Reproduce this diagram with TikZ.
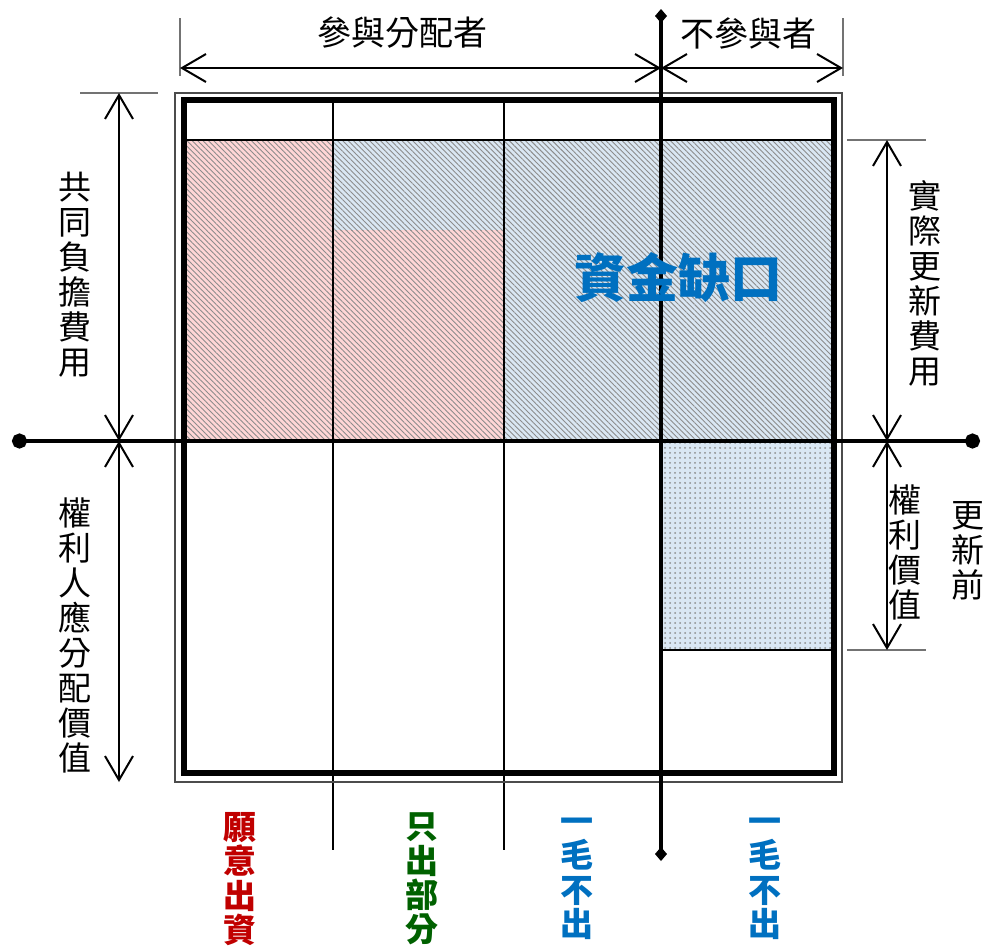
\documentclass[tikz,border=0pt]{standalone}
\usepackage{fontspec}
\usepackage{xcolor}
\usepackage{tikz}
\usetikzlibrary{positioning,calc,arrows.meta,patterns.meta}
\newfontfamily\cjk{Noto Sans CJK TC}
\definecolor{GapBlue}{RGB}{0,112,192}
\definecolor{PayRed}{RGB}{192,0,0}
\definecolor{PartGreen}{RGB}{0,97,0}
\definecolor{PinkFill}{RGB}{255,214,214}
\definecolor{SkyFill}{RGB}{218,231,243}
\tikzset{
    dimline/.style={line width=1pt, {Straight Barb[length=12pt,width=14pt]}-{Straight Barb[length=12pt,width=14pt]}},
    tickline/.style={line width=0.6pt, draw=black!55},
    vtext/.style={font=\cjk\fontsize{16.5}{17.5}\selectfont, align=center, inner sep=0pt},
    htext/.style={font=\cjk\fontsize{17}{20}\selectfont, inner sep=0pt}
}

\begin{document}
\begin{tikzpicture}[
        x=0.5pt, y=-0.5pt,
        % --- VÙNG TÔ ---
        hatch_red/.style={fill=PinkFill, postaction={pattern={Lines[angle=-45,distance=1.9pt,line width=0.45pt]}, pattern color=black!45}},
        hatch_blue/.style={fill=SkyFill, postaction={pattern={Lines[angle=-45,distance=1.9pt,line width=0.45pt]}, pattern color=black!45}},
        dots_blue/.style={fill=SkyFill, postaction={pattern={Dots[distance=2.5pt,radius=0.5pt]}, pattern color=black!45}},
        % --- ĐƯỜNG VÀ CHỮ ---
        axis/.style={line width=2.2pt},
        thin_line/.style={line width=0.6pt},
        btext/.style={font=\cjk\bfseries\fontsize{16.5}{17.2}\selectfont, align=center, inner sep=0pt},
        btext_red/.style={btext, text=PayRed},
        btext_green/.style={btext, text=PartGreen},
        btext_blue/.style={btext, text=GapBlue}
    ]
        \useasboundingbox (0,0) rectangle (986,948);

        % --- VÙNG TÔ ---
        \path[hatch_red] (184,140) rectangle (333,441);
        \path[hatch_red] (333,230) rectangle (504,441);
        \path[hatch_blue] (333,140) rectangle (504,230);
        \path[hatch_blue] (504,140) rectangle (834,441);
        \path[dots_blue] (661,441) rectangle (834,650);

        % --- KHUNG VÀ LƯỚI ---
        \coordinate (rowL) at (184,140);
        \coordinate (rowR) at (834,140);
        \coordinate (dotL) at (661,650);
        \coordinate (dotR) at (834,650);
        \coordinate (colA1) at (333,100);
        \coordinate (colA2) at (333,850);
        \coordinate (colB1) at (504,100);
        \coordinate (colB2) at (504,850);
        \draw[thin_line] (rowL) -- (rowR);
        \draw[thin_line] (dotL) -- (dotR);
        \draw[thin_line] (colA1) -- (colA2);
        \draw[thin_line] (colB1) -- (colB2);
        \draw[line width=0.6pt, draw=black!70] (175,93) rectangle (842,782);
        \draw[line width=3pt] (184,100) rectangle (834,773);

        % --- TRỤC ---
        \coordinate (axW) at (12,441);
        \coordinate (axE) at (980,441);
        \coordinate (axN) at (661,9);
        \coordinate (axS) at (661,861);
        \coordinate (axT) at (661,68);
        \draw[axis, {Circle[length=7.5pt]}-{Circle[length=7.5pt]}] (axW) -- (axE);
        \draw[axis, {Diamond[length=7pt,width=6pt]}-{Diamond[length=7pt,width=6pt]}] (axN) -- (axS);

        % --- KÍCH THƯỚC ---
        \coordinate (topL1) at (180,18);
        \coordinate (topL2) at (180,76);
        \coordinate (topR1) at (843,18);
        \coordinate (topR2) at (843,76);
        \draw[tickline] (topL1) -- (topL2);
        \draw[tickline] (topR1) -- (topR2);
        \draw[dimline] (180,68) -- (axT);
        \draw[dimline] (axT) -- (843,68);

        \coordinate (lftT1) at (80,93);
        \coordinate (lftT2) at (158,93);
        \coordinate (lftA) at (119,93);
        \coordinate (lftM) at (119,441);
        \coordinate (lftB) at (119,782);
        \draw[tickline] (lftT1) -- (lftT2);
        \draw[dimline] (lftA) -- (lftM);
        \draw[dimline] (lftM) -- (lftB);

        \coordinate (rgtT1) at (847,140);
        \coordinate (rgtT2) at (926,140);
        \coordinate (rgtB1) at (847,650);
        \coordinate (rgtB2) at (926,650);
        \coordinate (rgtA) at (887,140);
        \coordinate (rgtM) at (887,441);
        \coordinate (rgtB) at (887,650);
        \draw[tickline] (rgtT1) -- (rgtT2);
        \draw[tickline] (rgtB1) -- (rgtB2);
        \draw[dimline] (rgtA) -- (rgtM);
        \draw[dimline] (rgtM) -- (rgtB);

        % --- NHÃN ---
        \node[htext] (joinLbl) at (402,33) {參與分配者};
        \node[htext] (skipLbl) at (748,33) {不參與者};
        \node[vtext] (sharedLbl) at (75,275) {共\\同\\負\\擔\\費\\用};
        \node[vtext] (ownerLbl) at (75,635) {權\\利\\人\\應\\分\\配\\價\\值};
        \node[vtext] (costLbl) at (925,283) {實\\際\\更\\新\\費\\用};
        \node[vtext] (rightLbl) at (905,552) {權\\利\\價\\值};
        \node[vtext] (beforeLbl) at (968,551) {更\\新\\前};
        \node[font=\cjk\bfseries\fontsize{26}{28}\selectfont, text=GapBlue, inner sep=0pt] (gapLbl) at (678,278) {資金缺口};

        \node[btext_red] (payLbl) at (240,879) {願\\意\\出\\資};
        \node[btext_green] (partLbl) at (422,879) {只\\出\\部\\分};
        \node[btext_blue] (noneLblA) at (577,879) {一\\毛\\不\\出};
        \node[btext_blue] (noneLblB) at (765,879) {一\\毛\\不\\出};

    \end{tikzpicture}
\end{document}
